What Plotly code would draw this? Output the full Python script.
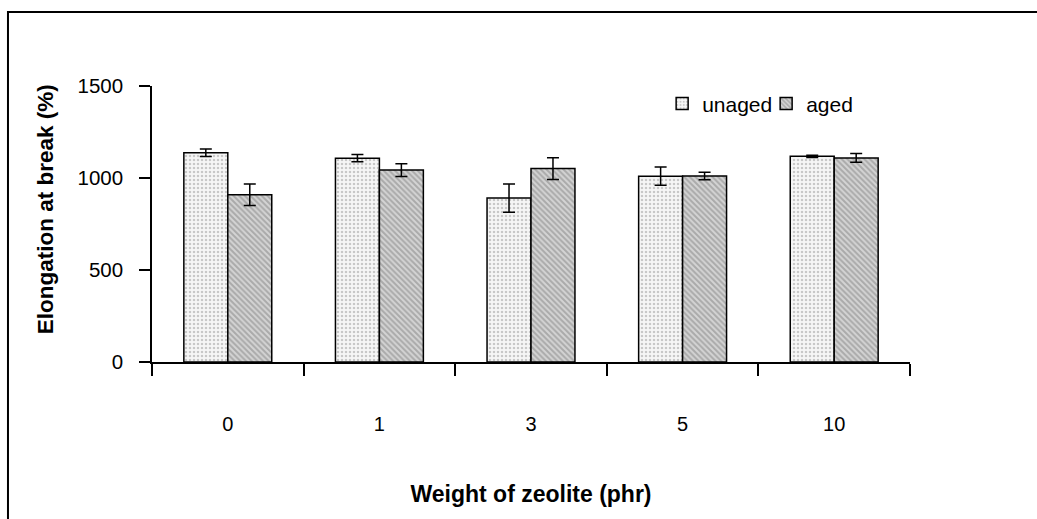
import plotly.graph_objects as go

# Elongation at break for rubber compounds with different zeolite loadings
zeolite_phr = ["0", "1", "3", "5", "10"]
unaged = [1137, 1108, 891, 1010, 1118]
unaged_err = [20, 20, 77, 50, 6]
aged = [909, 1043, 1051, 1011, 1109]
aged_err = [58, 35, 59, 20, 24]

FONT = "Liberation Sans, Arial, sans-serif"

fig = go.Figure()
fig.add_trace(go.Bar(
    name="unaged", x=zeolite_phr, y=unaged,
    error_y=dict(type="data", array=unaged_err, color="black", thickness=1.5, width=6),
    marker=dict(color="#f2f2f2", line=dict(color="black", width=1.5),
                pattern=dict(shape=".", fgcolor="#9a9a9a", bgcolor="#f6f6f6",
                             size=4, solidity=0.3, fillmode="overlay")),
))
fig.add_trace(go.Bar(
    name="aged", x=zeolite_phr, y=aged,
    error_y=dict(type="data", array=aged_err, color="black", thickness=1.5, width=6),
    marker=dict(color="#c0c0c0", line=dict(color="black", width=1.5),
                pattern=dict(shape="\\", fgcolor="#808080", bgcolor="#d4d4d4",
                             size=4, solidity=0.5, fillmode="overlay")),
))

fig.update_layout(
    width=1037, height=519,
    margin=dict(l=152, r=127, t=86, b=157),
    paper_bgcolor="white", plot_bgcolor="white",
    barmode="group", bargap=0.42, bargroupgap=0,
    font=dict(family=FONT, size=20, color="black"),
    showlegend=True,
    legend=dict(orientation="h", x=0.673, y=1.01, xanchor="left", yanchor="top",
                bgcolor="rgba(0,0,0,0)", font=dict(size=21),
                entrywidth=59, entrywidthmode="pixels"),
    xaxis=dict(
        type="category", showline=True, linecolor="black", linewidth=1.5,
        ticks="outside", tickson="boundaries", ticklen=12, tickwidth=1.5,
        tickcolor="black", showgrid=False, ticklabelstandoff=43,
        title=dict(text="<b>Weight of zeolite (phr)</b>", font=dict(size=23), standoff=52),
    ),
    yaxis=dict(
        range=[0, 1500], tickvals=[0, 500, 1000, 1500], showline=True,
        linecolor="black", linewidth=1.5, ticks="outside", ticklen=11,
        tickwidth=1.5, tickcolor="black", showgrid=False, zeroline=False,
        ticklabelstandoff=12, tickfont=dict(size=20.5),
    ),
    annotations=[dict(text="<b>Elongation at break (%)</b>", textangle=-90,
                      xref="paper", yref="paper", x=-0.141, y=0.554,
                      xanchor="center", yanchor="middle", showarrow=False,
                      font=dict(size=22.5))],
    shapes=[dict(type="rect", xref="paper", yref="paper",
                 x0=-0.19, x1=1.3, y0=-0.8, y1=1.268,
                 line=dict(color="black", width=2), fillcolor="rgba(0,0,0,0)")],
)

fig.write_html("out.html")
